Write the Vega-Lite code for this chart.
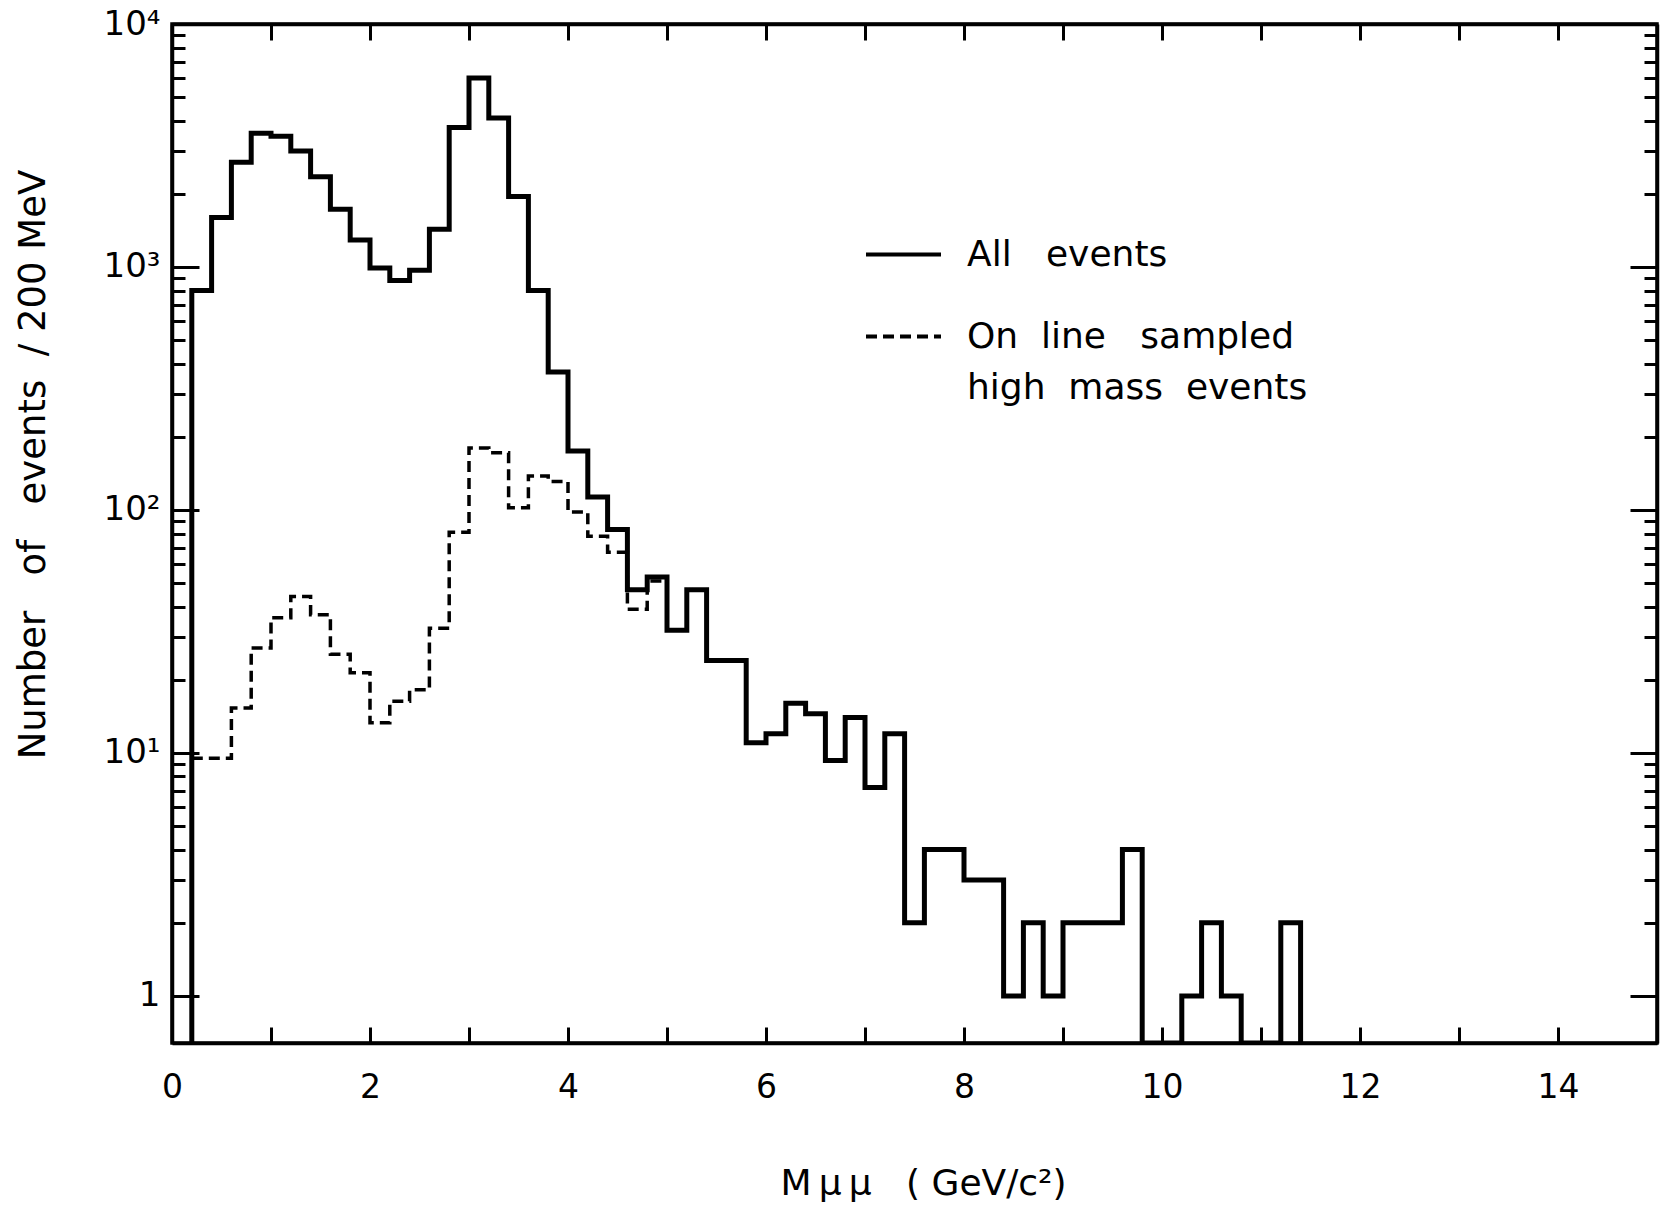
{
  "$schema": "https://vega.github.io/schema/vega-lite/v6.json",
  "width": 1485,
  "height": 1019,
  "autosize": {"type": "none"},
  "padding": {"left": 172, "top": 24, "right": 11, "bottom": 170},
  "background": "white",
  "config": {
    "view": {"stroke": "black", "strokeWidth": 3.5},
    "font": "DejaVu Sans",
    "axis": {
      "domainColor": "black", "domainWidth": 3.5, "tickColor": "black", "tickWidth": 3,
      "grid": false, "labelColor": "black", "titleColor": "black",
      "labelFont": "DejaVu Sans", "titleFont": "DejaVu Sans", "titleFontWeight": "normal",
      "labelOverlap": false, "labelBound": false, "labelFlush": false
    }
  },
  "data": {
    "values": [
      {"m": 0.2, "n": 0, "s": "All events"},
      {"m": 0.2, "n": 800, "s": "All events"},
      {"m": 0.4, "n": 1600, "s": "All events"},
      {"m": 0.6, "n": 2700, "s": "All events"},
      {"m": 0.8, "n": 3550, "s": "All events"},
      {"m": 1.0, "n": 3450, "s": "All events"},
      {"m": 1.2, "n": 3000, "s": "All events"},
      {"m": 1.4, "n": 2350, "s": "All events"},
      {"m": 1.6, "n": 1730, "s": "All events"},
      {"m": 1.8, "n": 1290, "s": "All events"},
      {"m": 2.0, "n": 990, "s": "All events"},
      {"m": 2.2, "n": 880, "s": "All events"},
      {"m": 2.4, "n": 970, "s": "All events"},
      {"m": 2.6, "n": 1430, "s": "All events"},
      {"m": 2.8, "n": 3750, "s": "All events"},
      {"m": 3.0, "n": 6000, "s": "All events"},
      {"m": 3.2, "n": 4100, "s": "All events"},
      {"m": 3.4, "n": 1950, "s": "All events"},
      {"m": 3.6, "n": 800, "s": "All events"},
      {"m": 3.8, "n": 370, "s": "All events"},
      {"m": 4.0, "n": 175, "s": "All events"},
      {"m": 4.2, "n": 113, "s": "All events"},
      {"m": 4.4, "n": 83, "s": "All events"},
      {"m": 4.6, "n": 47, "s": "All events"},
      {"m": 4.8, "n": 53, "s": "All events"},
      {"m": 5.0, "n": 32, "s": "All events"},
      {"m": 5.2, "n": 47, "s": "All events"},
      {"m": 5.4, "n": 24, "s": "All events"},
      {"m": 5.6, "n": 24, "s": "All events"},
      {"m": 5.8, "n": 11, "s": "All events"},
      {"m": 6.0, "n": 12, "s": "All events"},
      {"m": 6.2, "n": 16, "s": "All events"},
      {"m": 6.4, "n": 14.5, "s": "All events"},
      {"m": 6.6, "n": 9.3, "s": "All events"},
      {"m": 6.8, "n": 14, "s": "All events"},
      {"m": 7.0, "n": 7.2, "s": "All events"},
      {"m": 7.2, "n": 12, "s": "All events"},
      {"m": 7.4, "n": 2, "s": "All events"},
      {"m": 7.6, "n": 4, "s": "All events"},
      {"m": 7.8, "n": 4, "s": "All events"},
      {"m": 8.0, "n": 3, "s": "All events"},
      {"m": 8.2, "n": 3, "s": "All events"},
      {"m": 8.4, "n": 1, "s": "All events"},
      {"m": 8.6, "n": 2, "s": "All events"},
      {"m": 8.8, "n": 1, "s": "All events"},
      {"m": 9.0, "n": 2, "s": "All events"},
      {"m": 9.2, "n": 2, "s": "All events"},
      {"m": 9.4, "n": 2, "s": "All events"},
      {"m": 9.6, "n": 4, "s": "All events"},
      {"m": 9.8, "n": 0, "s": "All events"},
      {"m": 10.0, "n": 0, "s": "All events"},
      {"m": 10.2, "n": 1, "s": "All events"},
      {"m": 10.4, "n": 2, "s": "All events"},
      {"m": 10.6, "n": 1, "s": "All events"},
      {"m": 10.8, "n": 0, "s": "All events"},
      {"m": 11.0, "n": 0, "s": "All events"},
      {"m": 11.2, "n": 2, "s": "All events"},
      {"m": 11.4, "n": 0, "s": "All events"},
      {"m": 0.2, "n": 9.5, "s": "On line sampled high mass events"},
      {"m": 0.4, "n": 9.5, "s": "On line sampled high mass events"},
      {"m": 0.6, "n": 15.3, "s": "On line sampled high mass events"},
      {"m": 0.8, "n": 27, "s": "On line sampled high mass events"},
      {"m": 1.0, "n": 36, "s": "On line sampled high mass events"},
      {"m": 1.2, "n": 44, "s": "On line sampled high mass events"},
      {"m": 1.4, "n": 37, "s": "On line sampled high mass events"},
      {"m": 1.6, "n": 25.5, "s": "On line sampled high mass events"},
      {"m": 1.8, "n": 21.4, "s": "On line sampled high mass events"},
      {"m": 2.0, "n": 13.3, "s": "On line sampled high mass events"},
      {"m": 2.2, "n": 16.3, "s": "On line sampled high mass events"},
      {"m": 2.4, "n": 18.2, "s": "On line sampled high mass events"},
      {"m": 2.6, "n": 32.6, "s": "On line sampled high mass events"},
      {"m": 2.8, "n": 81, "s": "On line sampled high mass events"},
      {"m": 3.0, "n": 180, "s": "On line sampled high mass events"},
      {"m": 3.2, "n": 172, "s": "On line sampled high mass events"},
      {"m": 3.4, "n": 102, "s": "On line sampled high mass events"},
      {"m": 3.6, "n": 138, "s": "On line sampled high mass events"},
      {"m": 3.8, "n": 131, "s": "On line sampled high mass events"},
      {"m": 4.0, "n": 98, "s": "On line sampled high mass events"},
      {"m": 4.2, "n": 78, "s": "On line sampled high mass events"},
      {"m": 4.4, "n": 67, "s": "On line sampled high mass events"},
      {"m": 4.6, "n": 39, "s": "On line sampled high mass events"},
      {"m": 4.8, "n": 51, "s": "On line sampled high mass events"},
      {"m": 5.0, "n": 51, "s": "On line sampled high mass events"}
    ]
  },
  "layer": [
    {
      "transform": [{"filter": "datum.s == 'All events'"}],
      "mark": {"type": "line", "interpolate": "step-after", "strokeWidth": 5, "color": "black", "clip": true, "invalid": null},
      "encoding": {
        "x": {
          "field": "m", "type": "quantitative",
          "scale": {"domain": [0, 15], "nice": false, "zero": false},
          "axis": {
            "orient": "bottom", "values": [0, 1, 2, 3, 4, 5, 6, 7, 8, 9, 10, 11, 12, 13, 14],
            "tickSize": -16, "labelExpr": "datum.value % 2 == 0 ? datum.label : ''",
            "labelFontSize": 33, "labelPadding": 44,
            "title": "M\u2009μ\u2009μ\u00a0\u00a0\u00a0(\u00a0GeV/c²)", "titleFontSize": 36, "titlePadding": 62,
            "titleX": 751
          }
        },
        "y": {
          "field": "n", "type": "quantitative",
          "scale": {"type": "log", "domain": [0.64, 10000], "nice": false, "clamp": true},
          "axis": {
            "orient": "left", "values": [1, 10, 100, 1000, 10000], "tickSize": -27,
            "labelExpr": "datum.value == 1 ? '1' : datum.value == 10 ? '10¹' : datum.value == 100 ? '10²' : datum.value == 1000 ? '10³' : '10⁴'",
            "labelFontSize": 34, "labelPadding": 39,
            "title": "Number\u00a0\u00a0\u00a0of\u00a0\u00a0\u00a0events\u00a0\u00a0/\u00a0200\u00a0MeV", "titleFontSize": 37,
            "titleX": -128, "titleY": 440, "titleBaseline": "alphabetic"
          }
        },
        "strokeDash": {
          "field": "s", "type": "nominal",
          "scale": {"domain": ["All events", "On line sampled high mass events"], "range": [[1, 0], [11, 6]]},
          "legend": {
            "orient": "none", "legendX": 692, "legendY": 191, "title": null,
            "symbolType": "stroke", "symbolSize": 5625, "symbolStrokeWidth": 4, "symbolStrokeColor": "black",
            "labelFontSize": 36, "labelFont": "DejaVu Sans", "labelColor": "black", "labelOffset": 24, "labelLimit": 0,
            "rowPadding": 24,
            "labelExpr": "datum.label == 'All events' ? 'All\u00a0\u00a0\u00a0events' : ['On\u00a0\u00a0line\u00a0\u00a0\u00a0sampled', 'high\u00a0\u00a0mass\u00a0\u00a0events']",
            "encode": {"labels": {"update": {"lineHeight": {"value": 51}}}}
          }
        },
        "order": {"value": null}
      }
    },
    {
      "transform": [{"filter": "datum.s != 'All events'"}],
      "mark": {"type": "line", "interpolate": "step-after", "strokeWidth": 3.5, "color": "black", "clip": true, "invalid": null},
      "encoding": {
        "x": {
          "field": "m", "type": "quantitative",
          "axis": {"orient": "top", "values": [1, 2, 3, 4, 5, 6, 7, 8, 9, 10, 11, 12, 13, 14], "tickSize": -16, "labels": false, "title": null}
        },
        "y": {
          "field": "n", "type": "quantitative",
          "axis": {"orient": "left", "values": [2, 3, 4, 5, 6, 7, 8, 9, 20, 30, 40, 50, 60, 70, 80, 90, 200, 300, 400, 500, 600, 700, 800, 900, 2000, 3000, 4000, 5000, 6000, 7000, 8000, 9000], "tickSize": -13, "labels": false, "title": null, "domain": false}
        },
        "strokeDash": {"field": "s", "type": "nominal"},
        "order": {"value": null}
      }
    },
    {
      "transform": [{"filter": "datum.s == 'All events'"}],
      "mark": {"type": "line", "strokeOpacity": 0, "clip": true, "invalid": null},
      "encoding": {
        "x": {"field": "m", "type": "quantitative", "axis": null},
        "y": {
          "field": "n", "type": "quantitative",
          "axis": {"orient": "right", "values": [1, 10, 100, 1000, 10000], "tickSize": -27, "labels": false, "title": null}
        },
        "order": {"value": null}
      }
    },
    {
      "transform": [{"filter": "datum.s == 'All events'"}],
      "mark": {"type": "line", "strokeOpacity": 0, "clip": true, "invalid": null},
      "encoding": {
        "x": {"field": "m", "type": "quantitative", "axis": null},
        "y": {
          "field": "n", "type": "quantitative",
          "axis": {"orient": "right", "values": [2, 3, 4, 5, 6, 7, 8, 9, 20, 30, 40, 50, 60, 70, 80, 90, 200, 300, 400, 500, 600, 700, 800, 900, 2000, 3000, 4000, 5000, 6000, 7000, 8000, 9000], "tickSize": -13, "labels": false, "title": null, "domain": false}
        },
        "order": {"value": null}
      }
    }
  ],
  "resolve": {"axis": {"x": "independent", "y": "independent"}}
}
